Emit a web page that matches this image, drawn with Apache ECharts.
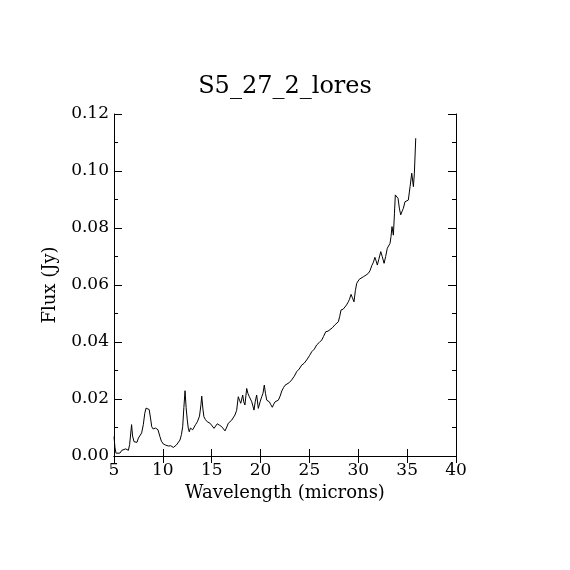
<!DOCTYPE html>
<html><head><meta charset="utf-8">
<script src="https://cdn.jsdelivr.net/npm/echarts@6/dist/echarts.min.js"></script>
<style>html,body{margin:0;padding:0;background:#fff}#c{width:570px;height:570px}</style>
</head><body><div id="c"></div>
<script>
const chartTitle = "S5_27_2_lores";
const xName = "Wavelength (microns)";
const yName = "Flux (Jy)";
const wavelength = [5.0,5.1,5.2,5.4,5.6,5.8,6.0,6.2,6.47,6.6,6.8,6.9,7.05,7.2,7.35,7.5,7.65,7.83,8.0,8.15,8.28,8.45,8.6,8.75,8.86,9.0,9.1,9.25,9.37,9.5,9.7,9.85,10.05,10.3,10.56,10.8,11.07,11.2,11.4,11.6,11.75,11.9,12.03,12.15,12.27,12.38,12.5,12.6,12.7,12.82,12.95,13.05,13.19,13.35,13.53,13.75,13.9,13.98,14.1,14.2,14.35,14.55,14.7,14.83,15.0,15.24,15.4,15.57,15.8,16.02,16.2,16.36,16.5,16.7,16.85,17.05,17.2,17.38,17.55,17.72,17.85,17.97,18.17,18.28,18.4,18.58,18.7,18.85,18.95,19.1,19.33,19.45,19.6,19.77,19.95,20.12,20.25,20.38,20.5,20.63,20.9,21.05,21.2,21.35,21.48,21.65,21.82,22.0,22.17,22.35,22.5,22.7,22.95,23.19,23.45,23.7,23.95,24.21,24.45,24.72,25.0,25.24,25.5,25.75,26.0,26.26,26.45,26.67,26.9,27.1,27.35,27.6,27.8,27.96,28.1,28.23,28.45,28.64,28.8,28.98,29.1,29.26,29.4,29.56,29.7,29.84,30.1,30.3,30.52,30.8,31.03,31.2,31.38,31.55,31.7,31.82,31.95,32.1,32.3,32.45,32.64,32.8,32.97,33.1,33.25,33.35,33.45,33.59,33.7,33.79,33.9,34.07,34.2,34.34,34.5,34.61,34.78,34.95,35.12,35.3,35.47,35.64,35.74,35.88];
const flux = [0.0068,0.003,0.001,0.0015,0.001,0.002,0.0015,0.0025,0.002,0.004,0.011,0.007,0.005,0.0055,0.0048,0.0063,0.006,0.0081,0.011,0.015,0.0168,0.0165,0.0163,0.013,0.0103,0.0095,0.0091,0.0098,0.0105,0.0092,0.0068,0.0052,0.0042,0.0038,0.0035,0.0036,0.003,0.0034,0.0039,0.0046,0.0056,0.0075,0.0103,0.017,0.0229,0.017,0.0126,0.0098,0.0085,0.0098,0.0103,0.0092,0.0097,0.011,0.012,0.014,0.018,0.021,0.0165,0.0138,0.0128,0.012,0.0125,0.0115,0.0108,0.0097,0.0105,0.0113,0.0108,0.0103,0.0098,0.0088,0.0098,0.0115,0.0108,0.0126,0.0132,0.0144,0.016,0.0208,0.0195,0.0185,0.0214,0.019,0.0179,0.0237,0.022,0.0208,0.0215,0.019,0.0161,0.019,0.0214,0.0167,0.019,0.0208,0.022,0.0249,0.022,0.0196,0.019,0.018,0.0171,0.0182,0.019,0.0195,0.0196,0.021,0.0228,0.024,0.0248,0.025,0.0258,0.0267,0.028,0.0296,0.0305,0.0319,0.0325,0.0337,0.0352,0.0366,0.0375,0.039,0.0398,0.0407,0.042,0.0436,0.0438,0.0442,0.045,0.046,0.0465,0.0471,0.049,0.0512,0.0515,0.0518,0.053,0.0541,0.055,0.0567,0.0555,0.0541,0.058,0.0606,0.062,0.0625,0.0629,0.0635,0.0641,0.065,0.0668,0.068,0.0697,0.0685,0.067,0.069,0.0717,0.07,0.0676,0.07,0.0729,0.0735,0.0746,0.077,0.0805,0.0775,0.085,0.0916,0.091,0.0904,0.087,0.0846,0.086,0.0869,0.0892,0.0895,0.0898,0.0945,0.0992,0.0945,0.0992,0.1115];

const font = "'DejaVu Serif', 'Liberation Serif', serif";
const chart = echarts.init(document.getElementById('c'), null, {renderer: 'canvas'});
const axisLine = {show: true, lineStyle: {color: '#000', width: 1}};
const baseX = {
  type: 'value', min: 5, max: 40, interval: 5,
  axisLine: axisLine,
  axisTick: {show: true, inside: true, length: 7, lineStyle: {color: '#000'}},
  splitLine: {show: false}
};
const baseY = {
  type: 'value', min: 0, max: 0.12, interval: 0.02,
  axisLine: axisLine,
  axisTick: {show: true, inside: true, length: 8, lineStyle: {color: '#000'}},
  minorTick: {show: true, splitNumber: 2, length: 4, lineStyle: {color: '#000'}},
  splitLine: {show: false}
};
chart.setOption({
  animation: false,
  backgroundColor: '#fff',
  title: {text: chartTitle, left: 'center', top: 70, textStyle: {fontFamily: font, fontSize: 24, fontWeight: 'normal', color: '#000'}},
  grid: {left: 114, top: 114, width: 342, height: 342},
  xAxis: [
    Object.assign({}, baseX, {position: 'bottom', name: xName, nameLocation: 'middle', nameGap: 27,
      nameTextStyle: {fontFamily: font, fontSize: 18, color: '#000'},
      axisLabel: {fontFamily: font, fontSize: 17, color: '#000', margin: 6}}),
    Object.assign({}, baseX, {position: 'top', axisLabel: {show: false}})
  ],
  yAxis: [
    Object.assign({}, baseY, {position: 'left', name: yName, nameLocation: 'middle', nameGap: 55,
      nameTextStyle: {fontFamily: font, fontSize: 18, color: '#000'},
      axisLabel: {fontFamily: font, fontSize: 17, color: '#000', margin: 5, formatter: v => v.toFixed(2)}}),
    Object.assign({}, baseY, {position: 'right', axisLabel: {show: false}})
  ],
  series: [{
    type: 'line', xAxisIndex: 0, yAxisIndex: 0,
    data: wavelength.map((w, i) => [w, flux[i]]),
    showSymbol: false, symbol: 'none',
    lineStyle: {color: '#000', width: 1}
  }]
});
</script></body></html>
